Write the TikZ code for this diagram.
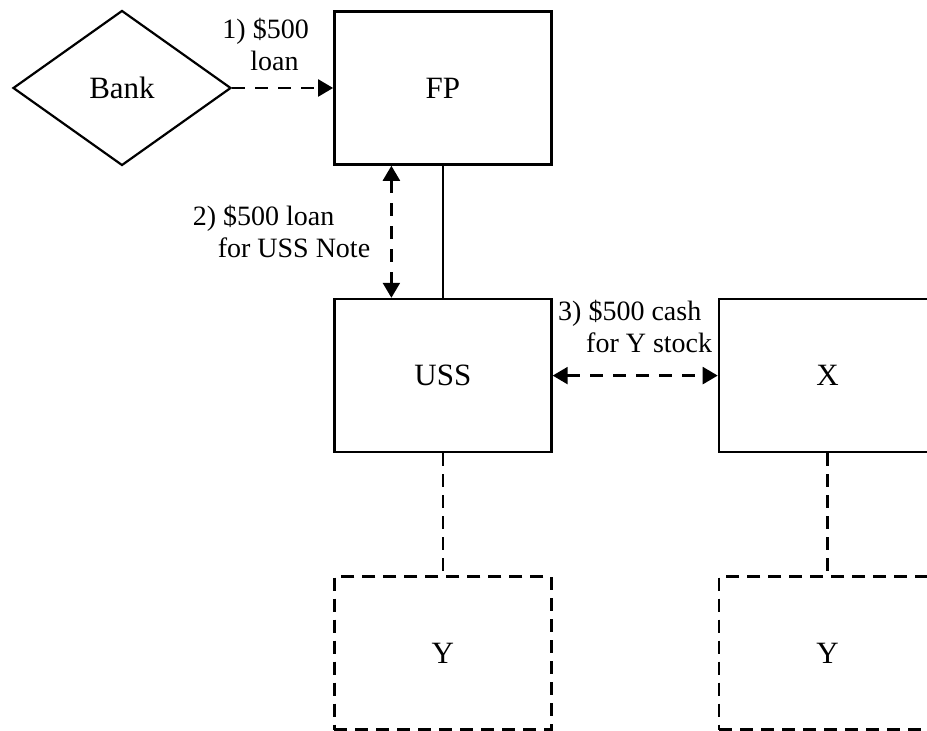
\documentclass[tikz,border=0pt]{standalone}
\usepackage{fontspec}
\setmainfont{Liberation Serif}
\usetikzlibrary{shapes.geometric, arrows.meta, positioning}
\tikzset{
    entbox/.style={rectangle, draw=black, line width=1.3pt, minimum width=108.5pt, minimum height=76.5pt, inner sep=0pt, font=\fontsize{15.5}{17}\selectfont},
    subbox/.style={entbox, dash pattern=on 6.5pt off 4pt},
    lender/.style={diamond, draw=black, line width=1.1pt, minimum width=109pt, minimum height=77.5pt, inner sep=0pt, font=\fontsize{15.5}{17}\selectfont},
    flow/.style={-{Triangle[length=7.5pt,width=8.5pt]}, line width=1.2pt, dash pattern=on 6.5pt off 5pt},
    twoway/.style={flow, {Triangle[length=7.5pt,width=8.5pt]}-{Triangle[length=7.5pt,width=8.5pt]}},
    tie/.style={line width=1.2pt},
    owns/.style={line width=1.2pt, dash pattern=on 6.5pt off 4pt},
    lbl/.style={inner sep=0pt, align=left, font=\fontsize{14}{16}\selectfont}
}
\begin{document}
\begin{tikzpicture}
    \useasboundingbox (-61pt,44pt) rectangle (402.5pt,-321.5pt);

    \node [lender] (bank) at (0,0) {Bank};
    \node [entbox, right=50.5pt of bank] (fp) {FP};
    \node [entbox, below=66pt of fp] (uss) {USS};
    \node [entbox, right=82.5pt of uss] (x) {X};
    \node [subbox, below=61pt of uss] (y1) {Y};
    \node [subbox, below=61pt of x] (y2) {Y};

    \draw [flow] (bank.east) -- node [lbl, above=8pt, xshift=-8.5pt] {1) \$500\\\hspace*{14pt}loan} (fp.west);
    \draw [twoway] ([xshift=-25.75pt]fp.south) -- node [lbl, left=10pt] {2) \$500 loan\\\hspace*{12.5pt}for USS Note} ([xshift=-25.75pt]uss.north);
    \draw [tie] (fp.south) -- (uss.north);
    \draw [twoway] (uss.east) -- node [lbl, above=11pt] {3) \$500 cash\\\hspace*{14pt}for Y stock} (x.west);
    \draw [owns] (uss.south) -- (y1.north);
    \draw [owns] (x.south) -- (y2.north);
\end{tikzpicture}
\end{document}
